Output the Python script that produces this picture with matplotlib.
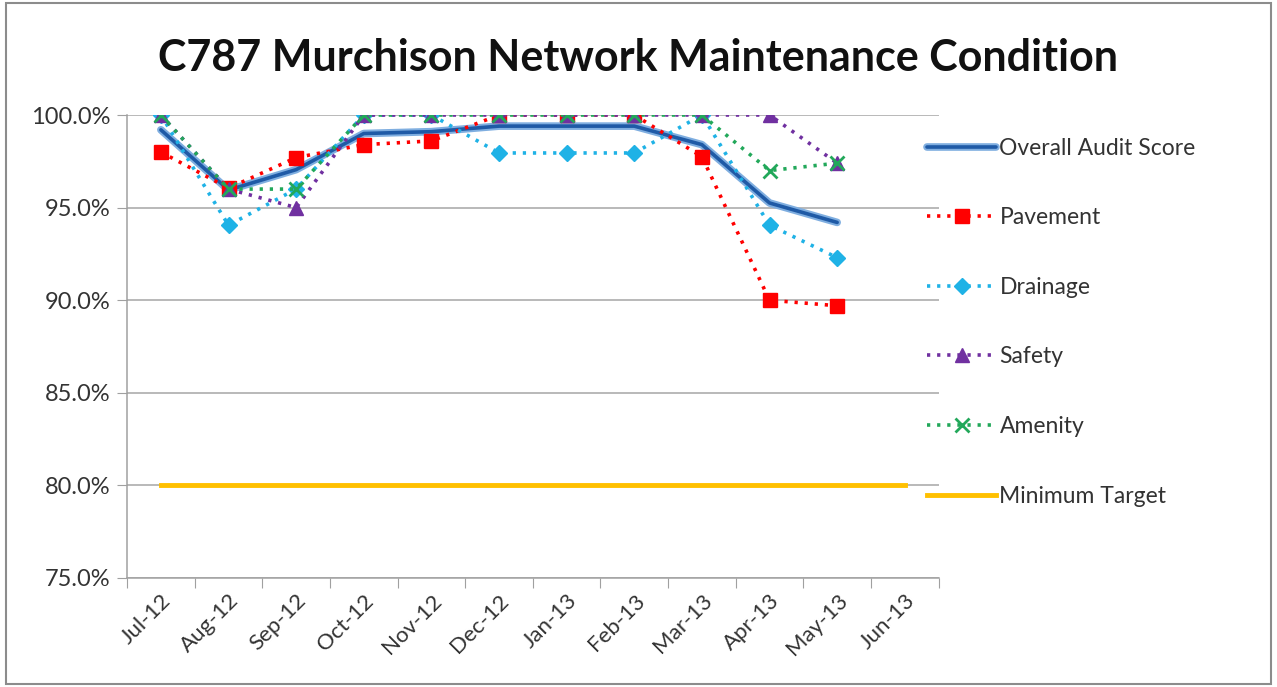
import matplotlib
matplotlib.use("Agg")
import matplotlib.pyplot as plt
import matplotlib.patheffects as pe
from matplotlib.patches import Rectangle
from matplotlib.ticker import FixedLocator, FuncFormatter

months = ["Jul-12", "Aug-12", "Sep-12", "Oct-12", "Nov-12", "Dec-12",
          "Jan-13", "Feb-13", "Mar-13", "Apr-13", "May-13", "Jun-13"]
overall = [99.2, 95.95, 97.05, 99.0, 99.1, 99.4, 99.4, 99.4, 98.4, 95.25, 94.2]
pavement = [98.0, 96.05, 97.7, 98.4, 98.6, 100.0, 100.0, 100.0, 97.75, 90.0, 89.7]
drainage = [100.0, 94.05, 96.0, 100.0, 100.0, 97.95, 97.95, 97.95, 100.0, 94.05, 92.3]
safety = [100.0, 96.0, 95.0, 100.0, 100.0, 100.0, 100.0, 100.0, 100.0, 100.0, 97.4]
amenity = [100.0, 96.0, 96.0, 100.0, 100.0, 100.0, 100.0, 100.0, 100.0, 97.0, 97.4]
target = [80.0] * 12

plt.rcParams['font.family'] = ['Lato', 'DejaVu Sans']

fig = plt.figure(figsize=(12.77, 6.87), dpi=100)
ax = fig.add_axes([0.0995, 0.1587, 0.6355, 0.6739])

x_main = list(range(len(overall)))
x_all = list(range(len(months)))

dot = (0, (0.9, 1.9))
l_over, = ax.plot(x_main, overall, color='#1F5AA6', lw=2.6, solid_capstyle='round',
                  path_effects=[pe.Stroke(linewidth=5.5, foreground='#7FAEE0'), pe.Normal()],
                  label='Overall Audit Score')
l_pav, = ax.plot(x_main, pavement, color='#FF0000', lw=2.6, linestyle=dot,
                 marker='s', markersize=10, markeredgecolor='#FF0000', label='Pavement')
l_dr, = ax.plot(x_main, drainage, color='#1FB2E6', lw=2.6, linestyle=dot,
                marker='D', markersize=8, markeredgecolor='#1FB2E6', label='Drainage')
l_sa, = ax.plot(x_main, safety, color='#7030A0', lw=2.6, linestyle=dot,
                marker='^', markersize=10, markeredgecolor='#7030A0', label='Safety')
l_am, = ax.plot(x_main, amenity, color='#22A85A', lw=2.6, linestyle=dot,
                marker='x', markersize=10, markeredgewidth=2, markeredgecolor='#22A85A',
                label='Amenity')
l_tg, = ax.plot(x_all, target, color='#FFC000', lw=3.5, label='Minimum Target')

ax.set_xlim(-0.5, len(months) - 0.5)
ax.set_ylim(75, 100)
ax.set_yticks([75, 80, 85, 90, 95, 100])
ax.yaxis.set_major_formatter(FuncFormatter(lambda v, p: f"{v:.1f}%"))
ax.grid(axis='y', color='#A6A6A6', lw=1.1)
ax.set_axisbelow(True)

ax.xaxis.set_major_locator(FixedLocator([i - 0.5 for i in range(len(months) + 1)]))
ax.xaxis.set_minor_locator(FixedLocator(x_all))
ax.set_xticklabels([], minor=False)
ax.set_xticklabels(months, minor=True, rotation=45, ha='right', rotation_mode='anchor',
                   fontsize=16, color='#333333')
ax.tick_params(axis='x', which='major', length=7, color='#A0A0A0', direction='out')
ax.tick_params(axis='x', which='minor', length=0, pad=9)
ax.tick_params(axis='y', length=7, pad=5, color='#A0A0A0', labelsize=17, labelcolor='#333333')

for s in ['top', 'right']:
    ax.spines[s].set_visible(False)
for s in ['left', 'bottom']:
    ax.spines[s].set_color('#A0A0A0')
    ax.spines[s].set_linewidth(1.1)

fig.text(0.5, 0.916, "C787 Murchison Network Maintenance Condition", ha='center', va='center',
         fontsize=31, fontweight='bold', color='#111111')

leg = fig.legend(handles=[l_over, l_pav, l_dr, l_sa, l_am, l_tg], loc='upper left',
                 bbox_to_anchor=(0.710, 0.8297), frameon=False, fontsize=16.5,
                 handlelength=3.0, handletextpad=0.15, labelspacing=2.12)
for t in leg.get_texts():
    t.set_color('#333333')

fig.add_artist(Rectangle((0.005, 0.005), 0.99, 0.99, transform=fig.transFigure,
                         fill=False, edgecolor='#8C8C8C', lw=1.5))

fig.savefig("out.png", dpi=100)
